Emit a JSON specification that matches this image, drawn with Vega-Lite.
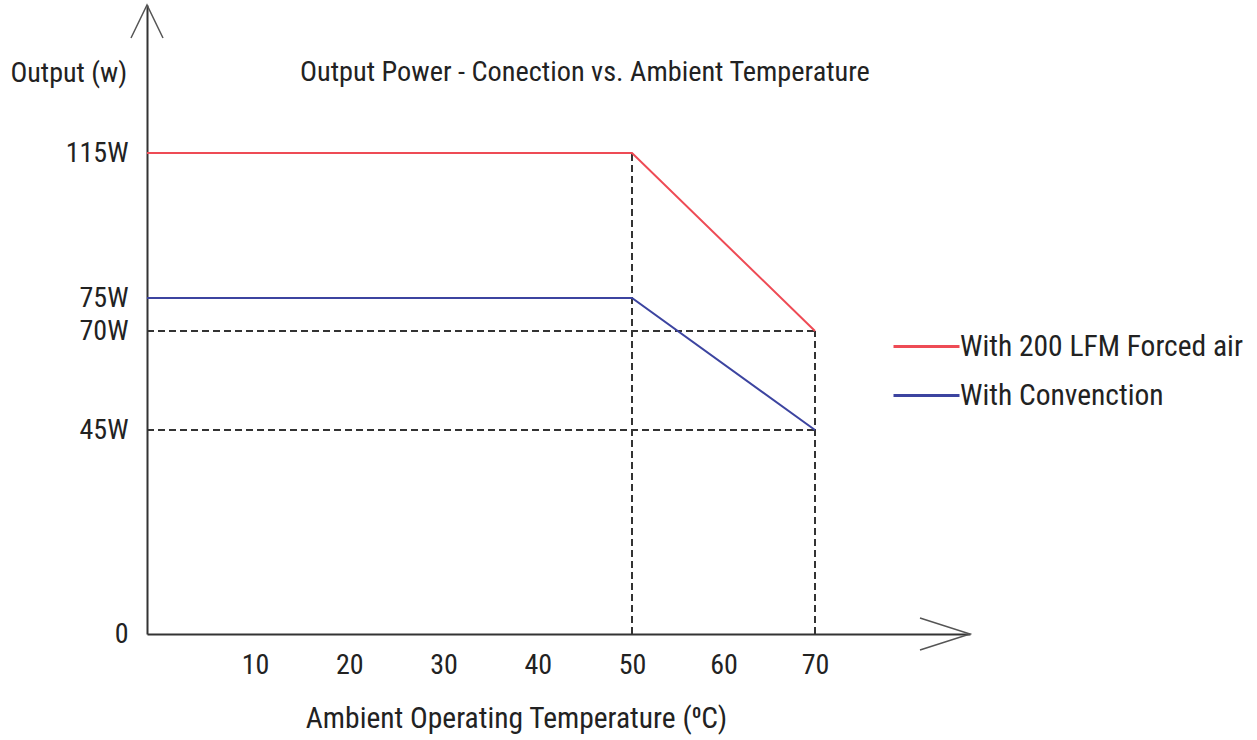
{
  "$schema": "https://vega.github.io/schema/vega-lite/v6.json",
  "width": 823,
  "height": 629,
  "autosize": {"type": "none"},
  "padding": {"left": 147, "top": 5, "right": 287, "bottom": 106},
  "background": "white",
  "config": {
    "view": {"stroke": null},
    "font": "Roboto Condensed, Liberation Sans Narrow, Roboto",
    "axis": {
      "grid": false,
      "ticks": false,
      "tickSize": 0,
      "domainColor": "#333333",
      "domainWidth": 2,
      "labelFontSize": 28,
      "labelColor": "#222222",
      "labelFont": "Roboto Condensed, Liberation Sans Narrow, Roboto",
      "titleFont": "Roboto Condensed, Liberation Sans Narrow, Roboto",
      "titleFontSize": 28,
      "titleFontWeight": "normal",
      "titleColor": "#222222"
    }
  },
  "title": {
    "text": "Output Power - Conection vs. Ambient Temperature",
    "anchor": "start",
    "frame": "group",
    "offset": 0,
    "dx": 153,
    "dy": 99,
    "baseline": "middle",
    "fontSize": 28.3,
    "fontWeight": "normal",
    "color": "#222222",
    "font": "Roboto Condensed, Liberation Sans Narrow, Roboto"
  },
  "layer": [
    {
      "data": {
        "values": [
          {"x": 0, "x2": 70, "y": 70, "y2": 70},
          {"x": 0, "x2": 70, "y": 45, "y2": 45},
          {"x": 50, "x2": 50, "y": 0, "y2": 115},
          {"x": 70, "x2": 70, "y": 0, "y2": 70}
        ]
      },
      "mark": {"type": "rule", "color": "#333333", "strokeWidth": 2, "strokeDash": [7, 4]},
      "encoding": {
        "x": {"field": "x", "type": "quantitative"},
        "x2": {"field": "x2"},
        "y": {"field": "y", "type": "quantitative"},
        "y2": {"field": "y2"}
      }
    },
    {
      "data": {
        "values": [
          {"temp": 0, "power": 115, "series": "With 200 LFM Forced air"},
          {"temp": 50, "power": 115, "series": "With 200 LFM Forced air"},
          {"temp": 70, "power": 70, "series": "With 200 LFM Forced air"},
          {"temp": 0, "power": 75, "series": "With Convenction"},
          {"temp": 50, "power": 75, "series": "With Convenction"},
          {"temp": 70, "power": 45, "series": "With Convenction"}
        ]
      },
      "mark": {"type": "line", "strokeWidth": 2},
      "encoding": {
        "x": {
          "field": "temp",
          "type": "quantitative",
          "scale": {"domain": [0, 10, 50, 70, 87], "range": [0, 108, 485, 668, 823], "nice": false, "zero": false},
          "axis": {
            "values": [10, 20, 30, 40, 50, 60, 70],
            "labelPadding": 17,
            "title": "Ambient Operating Temperature (⁰C)",
            "titleFontSize": 29.5,
            "titleX": 369,
            "titleY": 84,
            "titleAlign": "center",
            "titleBaseline": "middle",
            "titleAngle": 0
          }
        },
        "y": {
          "field": "power",
          "type": "quantitative",
          "scale": {"domain": [0, 45, 70, 75, 115, 150], "range": [629, 425, 326, 293, 148, 0], "nice": false, "zero": false},
          "axis": {
            "values": [0, 45, 70, 75, 115],
            "labelExpr": "datum.value == 0 ? '0' : datum.value + 'W'",
            "labelPadding": 19,
            "labelBaseline": "middle",
            "title": "Output (w)",
            "titleAngle": 0,
            "titleAlign": "left",
            "titleBaseline": "middle",
            "titleX": -137,
            "titleY": 68
          }
        },
        "color": {
          "field": "series",
          "type": "nominal",
          "scale": {"domain": ["With 200 LFM Forced air", "With Convenction"], "range": ["#ee4b55", "#3c44a0"]},
          "legend": {
            "orient": "none",
            "legendX": 745,
            "legendY": 307,
            "title": null,
            "symbolType": "stroke",
            "symbolSize": 4356,
            "symbolStrokeWidth": 3,
            "labelFontSize": 29.5,
            "labelColor": "#222222",
            "labelFont": "Roboto Condensed, Liberation Sans Narrow, Roboto",
            "labelOffset": -1,
            "labelLimit": 500,
            "rowPadding": -4
          }
        }
      }
    },
    {
      "data": {"values": [{"axis": "y"}]},
      "mark": {"type": "point", "shape": "M -0.485 1 L 0 0 L 0.485 1", "size": 4356, "filled": false, "stroke": "#555555", "strokeWidth": 1.5, "opacity": 1},
      "encoding": {
        "x": {"datum": 0, "type": "quantitative"},
        "y": {"datum": 150, "type": "quantitative"}
      }
    },
    {
      "data": {"values": [{"axis": "x"}]},
      "mark": {"type": "point", "shape": "M -1 -0.32 L 0 0 L -1 0.32", "size": 10000, "filled": false, "stroke": "#555555", "strokeWidth": 1.5, "opacity": 1},
      "encoding": {
        "x": {"datum": 87, "type": "quantitative"},
        "y": {"datum": 0, "type": "quantitative"}
      }
    }
  ]
}
